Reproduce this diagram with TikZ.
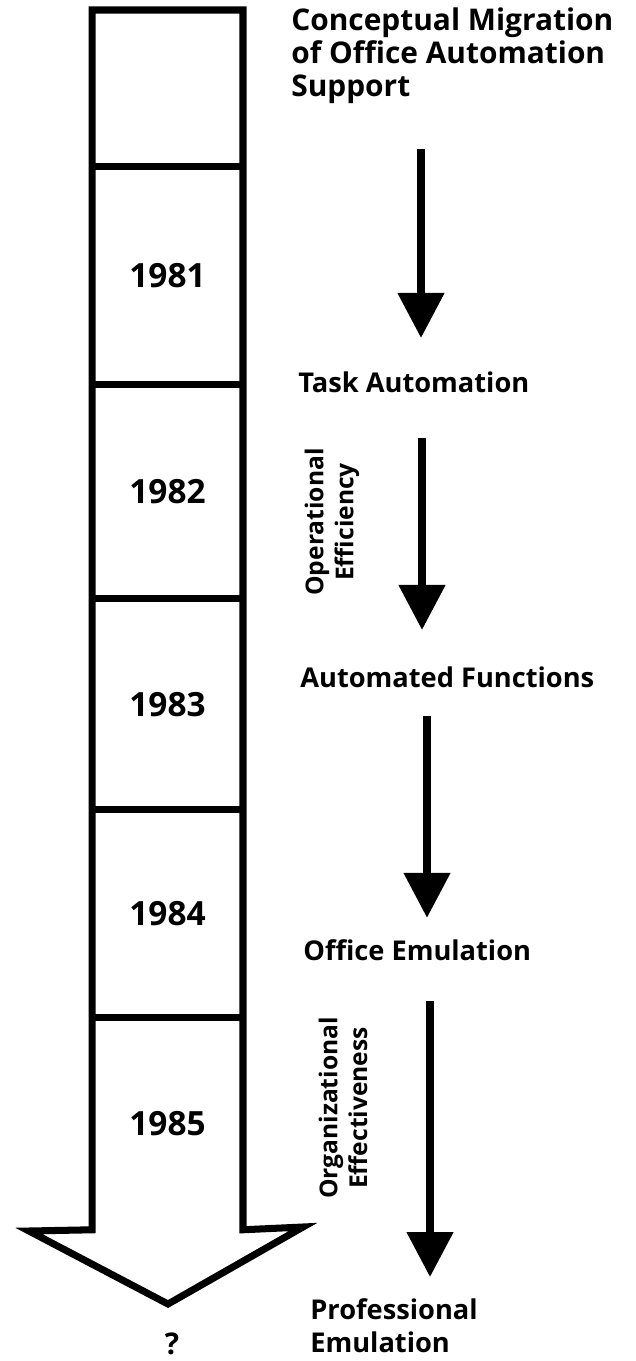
\documentclass[tikz,border=0pt]{standalone}
\usepackage{fontspec}
\setmainfont{Open Sans}
\usetikzlibrary{arrows.meta,positioning}

\begin{document}
\begin{tikzpicture}[
      x=0.02cm, y=-0.02cm,
      every node/.style={font=\bfseries\fontsize{15.5}{19}\selectfont},
      yearbox/.style={minimum width=3.02cm, inner sep=0pt, outer sep=0pt, font=\bfseries\fontsize{19}{22}\selectfont},
      stage/.style={inner sep=0pt, align=left},
      axis/.style={inner sep=0pt, align=center, rotate=90, font=\bfseries\fontsize{14}{17}\selectfont},
      outline/.style={line width=4pt, line join=miter},
      flow/.style={-{Triangle[length=0.9cm, width=0.9cm]}, line width=4.5pt}
  ]
    \useasboundingbox (0,0) rectangle (635,1361);
    % the big arrow, one box per year
    \node[yearbox, minimum height=3.14cm] (y0) at (167.5,88.5) {};
    \node[yearbox, minimum height=4.36cm, below=0pt of y0] (y1) {1981};
    \node[yearbox, minimum height=4.28cm, below=0pt of y1] (y2) {1982};
    \node[yearbox, minimum height=4.22cm, below=0pt of y2] (y3) {1983};
    \node[yearbox, minimum height=4.16cm, below=0pt of y3] (y4) {1984};
    \node[yearbox, minimum height=4.24cm, below=0pt of y4] (y5) {1985};
    \coordinate (lwing) at (29,1231);
    \coordinate (rwing) at (303,1227);
    \coordinate (tip) at (168,1304);
    \draw[outline] (y0.north west) -- (y0.north east) -- (y5.south east) -- (rwing) -- (tip) -- (lwing) -- (y5.south west) -- cycle;
    \foreach \i in {1,...,5}
      \draw[outline] (y\i.north west) -- (y\i.north east);
    \node[anchor=base, font=\bfseries\fontsize{17}{19}\selectfont] (open) at (172,1354) {?};
    % stages of office automation support
    \node[stage, anchor=north west, font=\bfseries\fontsize{17}{19}\selectfont] (title) at (291,7) {Conceptual Migration\\of Office Automation\\Support};
    \node[stage, anchor=base west] (task) at (298,393) {Task Automation};
    \node[stage, anchor=base west] (funcs) at (300,687) {Automated Functions};
    \node[stage, anchor=base west] (office) at (303,960) {Office Emulation};
    \node[stage, anchor=north west] (prof) at (310,1298) {Professional\\Emulation};
    \node[axis] (opeff) at (332,522) {Operational\\Efficiency};
    \node[axis] (orgeff) at (343,1108) {Organizational\\Effectiveness};
    \coordinate (k1) at (421,0);
    \coordinate (k2) at (422,0);
    \coordinate (k3) at (427,0);
    \coordinate (k4) at (430,0);
    \draw[flow, shorten <=0.9cm, shorten >=0.68cm] (title.south -| k1) -- (task.north -| k1);
    \draw[flow, shorten <=0.88cm, shorten >=0.72cm] (task.south -| k2) -- (funcs.north -| k2);
    \draw[flow, shorten <=0.56cm, shorten >=0.42cm] (funcs.south -| k3) -- (office.north -| k3);
    \draw[flow, shorten <=0.8cm, shorten >=0.42cm] (office.south -| k4) -- (prof.north -| k4);
  \end{tikzpicture}
\end{document}
